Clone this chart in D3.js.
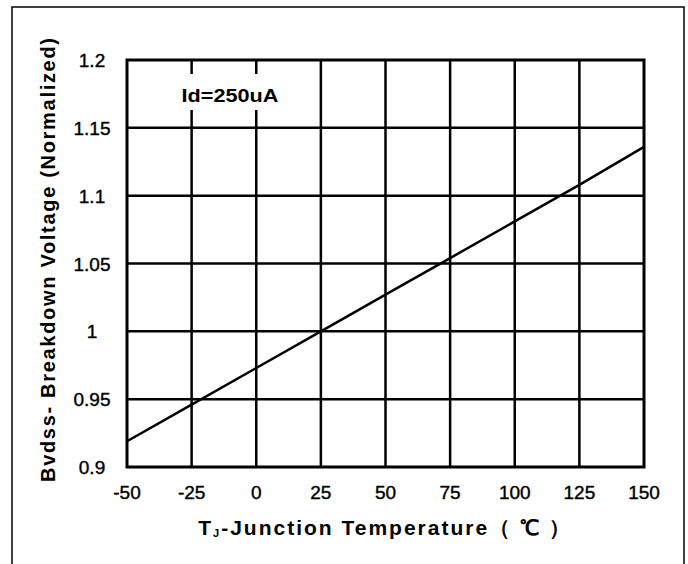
<!DOCTYPE html>
<html>
<head>
<meta charset="utf-8">
<script src="https://cdn.jsdelivr.net/npm/d3@7"></script>
<style>
  body { margin: 0; background: #fff; }
  text { font-family: "Liberation Sans", Arial, sans-serif; fill: #000; }
</style>
</head>
<body>
<script>
// donnees
var temperatures = [-50, -25, 0, 25, 50, 75, 100, 125, 150];
var bvdss = [0.919, 0.946, 0.973, 1.0, 1.027, 1.054, 1.081, 1.108, 1.136];
var xTicks = [-50, -25, 0, 25, 50, 75, 100, 125, 150];
var yTicks = [0.9, 0.95, 1, 1.05, 1.1, 1.15, 1.2];
var yTickLabels = ["0.9", "0.95", "1", "1.05", "1.1", "1.15", "1.2"];
var note = "Id=250uA";

var larg = 688, haut = 564;

var svg = d3.select("body").append("svg")
  .attr("width", larg)
  .attr("height", haut);

// cadre exterieur
svg.append("rect")
  .attr("x", 12).attr("y", 7)
  .attr("width", 672).attr("height", 570)
  .attr("fill", "none")
  .attr("stroke", "#111")
  .attr("stroke-width", 1.6);

var x = d3.scaleLinear().domain([-50, 150]).range([127, 644]);
var y = d3.scaleLinear().domain([0.9, 1.2]).range([467, 60]);

// grille
svg.selectAll("line.vx")
  .data(xTicks.slice(1, -1))
  .enter().append("line")
  .attr("x1", d => x(d)).attr("x2", d => x(d))
  .attr("y1", y(1.2)).attr("y2", y(0.9))
  .attr("stroke", "#000").attr("stroke-width", 2.5);

svg.selectAll("line.hy")
  .data(yTicks.slice(1, -1))
  .enter().append("line")
  .attr("x1", x(-50)).attr("x2", x(150))
  .attr("y1", d => y(d)).attr("y2", d => y(d))
  .attr("stroke", "#000").attr("stroke-width", 2.5);

// etiquette avec fond blanc
svg.append("rect")
  .attr("x", 178).attr("y", 74)
  .attr("width", 104).attr("height", 36)
  .attr("fill", "#fff");
svg.append("text")
  .attr("x", 230).attr("y", 102)
  .attr("text-anchor", "middle")
  .attr("font-size", 19)
  .attr("font-weight", "bold")
  .attr("textLength", 97)
  .attr("lengthAdjust", "spacingAndGlyphs")
  .text(note);

// bordure du graphe
svg.append("rect")
  .attr("x", x(-50)).attr("y", y(1.2))
  .attr("width", x(150) - x(-50))
  .attr("height", y(0.9) - y(1.2))
  .attr("fill", "none")
  .attr("stroke", "#000")
  .attr("stroke-width", 3);

// courbe
var line = d3.line()
  .x((d, i) => x(temperatures[i]))
  .y(d => y(d));
svg.append("path")
  .datum(bvdss)
  .attr("d", line)
  .attr("fill", "none")
  .attr("stroke", "#000")
  .attr("stroke-width", 2.5);

// graduations
svg.selectAll("text.xt")
  .data(xTicks)
  .enter().append("text")
  .attr("x", d => x(d))
  .attr("y", 499)
  .attr("text-anchor", "middle")
  .attr("font-size", 19)
  .attr("stroke", "#000").attr("stroke-width", 0.4)
  .text(d => d);

svg.selectAll("text.yt")
  .data(yTicks)
  .enter().append("text")
  .attr("x", 92)
  .attr("y", d => y(d) + 7)
  .attr("text-anchor", "middle")
  .attr("font-size", 19)
  .attr("stroke", "#000").attr("stroke-width", 0.4)
  .text((d, i) => yTickLabels[i]);

// titres des axes
var xt = svg.append("text")
  .attr("x", 385).attr("y", 535)
  .attr("text-anchor", "middle")
  .attr("font-size", 21)
  .attr("letter-spacing", 2)
  .attr("font-weight", "bold");
xt.append("tspan").text("T");
xt.append("tspan").attr("font-size", 11).attr("dy", 2).text("J");
xt.append("tspan").attr("dy", -2).text("-Junction Temperature（ ℃ ）");

svg.append("text")
  .attr("transform", "translate(55,260) rotate(-90)")
  .attr("text-anchor", "middle")
  .attr("font-size", 20)
  .attr("font-weight", "bold")
  .attr("textLength", 444)
  .attr("lengthAdjust", "spacing")
  .text("Bvdss- Breakdown Voltage (Normalized)");
</script>
</body>
</html>
